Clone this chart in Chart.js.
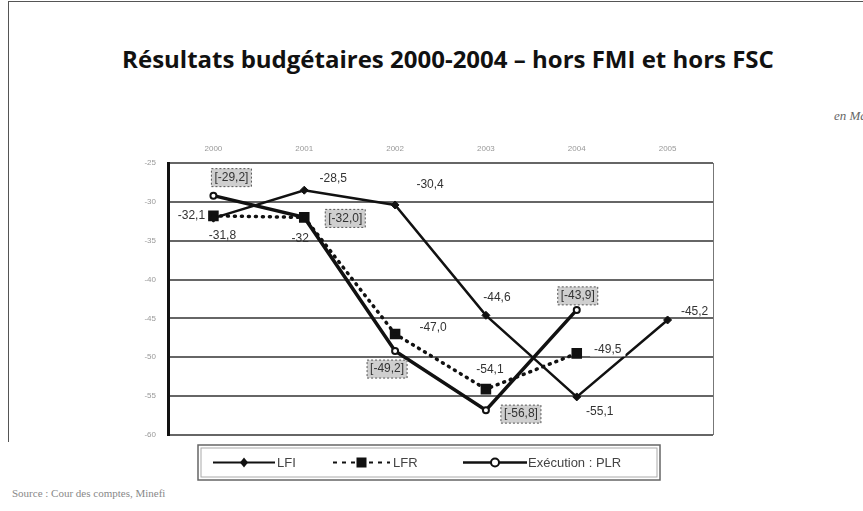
<!DOCTYPE html>
<html>
<head>
<meta charset="utf-8">
<script src="https://cdn.jsdelivr.net/npm/chart.js@4.4.0/dist/chart.umd.min.js"></script>
<style>
  html, body { margin:0; padding:0; background:#fff; }
  #wrap { position:relative; width:863px; height:511px; overflow:hidden; }
  #frame { position:absolute; left:8px; top:1px; width:900px; height:440px; border-top:1px solid #555; border-left:1px solid #555; }
  #title { position:absolute; left:0; width:896px; top:42px; text-align:center; font-family:"Open Sans", sans-serif; font-weight:bold; font-size:24px; color:#111; white-space:nowrap; }
  #unit { position:absolute; left:834px; top:108px; font-family:"Liberation Serif", serif; font-style:italic; font-size:13px; color:#666; white-space:nowrap; }
  #source { position:absolute; left:12px; top:487px; font-family:"Liberation Serif", serif; font-size:11px; color:#888; white-space:nowrap; }
  canvas { position:absolute; left:0; top:0; }
</style>
</head>
<body>
<div id="wrap">
  <div id="frame"></div>
  <div id="title">Résultats budgétaires 2000-2004 – hors FMI et hors FSC</div>
  <div id="unit">en Md€</div>
  <div id="source">Source : Cour des comptes, Minefi</div>
  <canvas id="c" width="863" height="511"></canvas>
</div>
<script>
// ---- data ----
const categories = ['2000', '2001', '2002', '2003', '2004', '2005'];
const lfiValues = [-32.1, -28.5, -30.4, -44.6, -55.1, -45.2];
const lfrValues = [-31.8, -32.0, -47.0, -54.1, -49.5, null];
const plrValues = [-29.2, -32.0, -49.2, -56.8, -43.9, null];
const lfiLabels = ['-32,1', '-28,5', '-30,4', '-44,6', '-55,1', '-45,2'];
const lfrLabels = ['-31,8', '-32', '-47,0', '-54,1', '-49,5', null];
const plrLabels = ['[-29,2]', '[-32,0]', '[-49,2]', '[-56,8]', '[-43,9]', null];
const yTicks = [-25, -30, -35, -40, -45, -50, -55, -60];
const seriesNames = ['LFI', 'LFR', 'Exécution : PLR'];

// label placement (pixel offsets from each point) and white-backed labels
const lfiOffsets = [[-22,-2],[29,-12],[35,-20],[11,-18],[23,15],[27,-8]];
const lfrOffsets = [[9,20],[-4,21],[38,-6],[4,-19],[31,-4],null];
const plrOffsets = [[18,-18],[41,1],[-8,18],[35,4],[1,-14],null];
const lfrWhiteBg = [false, false, false, false, true, false];

const labelPlugin = {
  id: 'valueLabels',
  afterDatasetsDraw(chart) {
    const ctx = chart.ctx;
    ctx.save();
    ctx.font = '12px "Liberation Sans", Arial, sans-serif';
    ctx.textAlign = 'center';
    ctx.textBaseline = 'middle';
    const sets = [[0, lfiLabels, lfiOffsets, false, null], [1, lfrLabels, lfrOffsets, false, lfrWhiteBg], [2, plrLabels, plrOffsets, true, null]];
    sets.forEach(([di, labels, offs, boxed, bg]) => {
      const meta = chart.getDatasetMeta(di);
      meta.data.forEach((pt, i) => {
        if (!labels[i] || !offs[i] || pt.skip) return;
        const x = pt.x + offs[i][0], y = pt.y + offs[i][1];
        const w = ctx.measureText(labels[i]).width;
        if (boxed) {
          ctx.fillStyle = '#cfcfcf';
          ctx.fillRect(x - w/2 - 3, y - 9, w + 6, 18);
          ctx.setLineDash([2, 2]);
          ctx.strokeStyle = '#555';
          ctx.lineWidth = 1;
          ctx.strokeRect(x - w/2 - 3, y - 9, w + 6, 18);
          ctx.setLineDash([]);
        } else if (bg && bg[i]) {
          ctx.fillStyle = '#fff';
          ctx.fillRect(x - w/2 - 4, y - 7, w + 8, 14);
        }
        ctx.fillStyle = '#333';
        ctx.fillText(labels[i], x, y);
      });
    });
    // right border of plot area
    const a = chart.chartArea;
    ctx.strokeStyle = '#777';
    ctx.lineWidth = 1;
    ctx.beginPath();
    ctx.moveTo(a.right + 0.5, a.top);
    ctx.lineTo(a.right + 0.5, a.bottom);
    ctx.stroke();

    // legend
    const lx = 198, ly = 445, lw = 462, lh = 35;
    ctx.strokeStyle = '#666';
    ctx.lineWidth = 1.5;
    ctx.strokeRect(lx, ly, lw, lh);
    ctx.strokeStyle = '#aaa';
    ctx.lineWidth = 1;
    ctx.strokeRect(lx + 3, ly + 3, lw - 6, lh - 6);
    const cy = ly + lh / 2;
    ctx.font = '13px "Liberation Sans", Arial, sans-serif';
    ctx.textAlign = 'left';
    const items = [
      {x0: 213, x1: 275, dash: [], w: 2, style: 'diamond', tx: 277},
      {x0: 333, x1: 390, dash: [4, 5], w: 2, style: 'square', tx: 393},
      {x0: 463, x1: 527, dash: [], w: 2.5, style: 'circle', tx: 528}
    ];
    items.forEach((it, k) => {
      ctx.strokeStyle = '#111';
      ctx.lineWidth = it.w;
      ctx.setLineDash(it.dash);
      ctx.beginPath();
      ctx.moveTo(it.x0, cy);
      ctx.lineTo(it.x1, cy);
      ctx.stroke();
      ctx.setLineDash([]);
      const mx = (it.x0 + it.x1) / 2;
      ctx.fillStyle = '#111';
      if (it.style === 'diamond') {
        ctx.beginPath();
        ctx.moveTo(mx, cy - 5); ctx.lineTo(mx + 4, cy); ctx.lineTo(mx, cy + 5); ctx.lineTo(mx - 4, cy);
        ctx.closePath(); ctx.fill();
      } else if (it.style === 'square') {
        ctx.fillRect(mx - 5, cy - 5, 10, 10);
      } else {
        ctx.fillStyle = '#fff';
        ctx.beginPath(); ctx.arc(mx, cy, 4, 0, Math.PI * 2); ctx.fill();
        ctx.lineWidth = 2; ctx.stroke();
      }
      ctx.fillStyle = '#444';
      ctx.fillText(seriesNames[k], it.tx, cy + 1);
    });
    ctx.restore();
  }
};

new Chart(document.getElementById('c'), {
  type: 'line',
  data: {
    labels: categories,
    datasets: [
      { label: seriesNames[0], data: lfiValues, borderColor: '#111', backgroundColor: '#111', borderWidth: 2.5,
        pointStyle: 'rectRot', pointRadius: 4, pointBorderWidth: 1, tension: 0 },
      { label: seriesNames[1], data: lfrValues, borderColor: '#111', backgroundColor: '#111', borderWidth: 3.5,
        borderDash: [1, 6], borderCapStyle: 'round', pointStyle: 'rect', pointRadius: 5, tension: 0 },
      { label: seriesNames[2], data: plrValues, borderColor: '#111', backgroundColor: '#fff', borderWidth: 3.5,
        pointStyle: 'circle', pointRadius: 3, pointBorderWidth: 2, tension: 0 }
    ]
  },
  options: {
    responsive: false,
    animation: false,
    devicePixelRatio: 1,
    layout: { padding: { left: 0, right: 150, top: 130, bottom: 76 } },
    plugins: { legend: { display: false }, title: { display: false }, tooltip: { enabled: false } },
    scales: {
      x: {
        type: 'category',
        position: 'top',
        offset: true,
        grid: { display: false, drawTicks: false },
        border: { display: false },
        ticks: { color: '#999', font: { size: 8, family: '"Liberation Sans", Arial' }, padding: 9, maxRotation: 0 },
        afterFit(s) { s.height = 33; }
      },
      y: {
        min: -60, max: -25,
        afterBuildTicks(s) { s.ticks = yTicks.map(v => ({ value: v })); },
        grid: { color: '#666', lineWidth: 2, drawTicks: false },
        border: { display: true, color: '#111', width: 3 },
        ticks: { color: '#999', font: { size: 8, family: '"Liberation Sans", Arial' }, padding: 12 },
        afterFit(s) { s.width = 168; }
      }
    }
  },
  plugins: [labelPlugin]
});
</script>
</body>
</html>
